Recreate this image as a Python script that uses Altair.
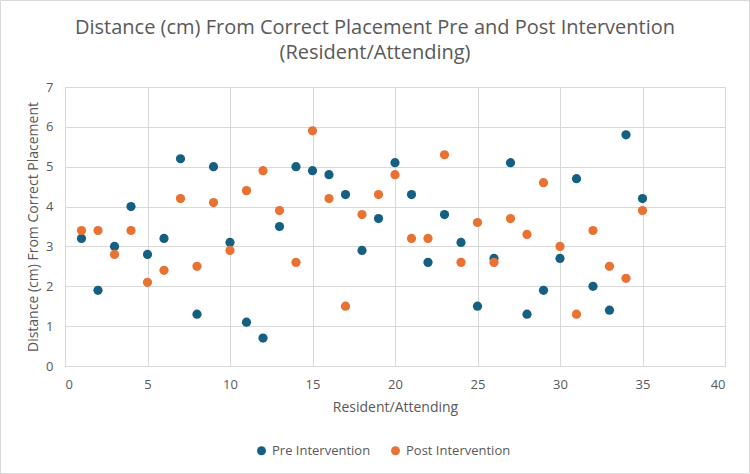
import altair as alt
import pandas as pd

resident = list(range(1, 36))
pre = [3.2, 1.9, 3.0, 4.0, 2.8, 3.2, 5.2, 1.3, 5.0, 3.1, 1.1, 0.7, 3.5, 5.0, 4.9,
       4.8, 4.3, 2.9, 3.7, 5.1, 4.3, 2.6, 3.8, 3.1, 1.5, 2.7, 5.1, 1.3, 1.9, 2.7,
       4.7, 2.0, 1.4, 5.8, 4.2]
post = [3.4, 3.4, 2.8, 3.4, 2.1, 2.4, 4.2, 2.5, 4.1, 2.9, 4.4, 4.9, 3.9, 2.6, 5.9,
        4.2, 1.5, 3.8, 4.3, 4.8, 3.2, 3.2, 5.3, 2.6, 3.6, 2.6, 3.7, 3.3, 4.6, 3.0,
        1.3, 3.4, 2.5, 2.2, 3.9]
series = ["Pre Intervention", "Post Intervention"]
colors = ["#156082", "#E97132"]
title_lines = ["Distance (cm) From Correct Placement Pre and Post Intervention",
               "(Resident/Attending)"]

df = pd.DataFrame(
    [{"x": r, "y": v, "s": series[0]} for r, v in zip(resident, pre)]
    + [{"x": r, "y": v, "s": series[1]} for r, v in zip(resident, post)]
)

FONT = "Open Sans"
GRAY = "#595959"
W, H = 660, 279
PAD = {"left": 65, "top": 87, "right": 25, "bottom": 108}

points = alt.Chart(df).mark_circle(size=85, opacity=1).encode(
    x=alt.X("x:Q", scale=alt.Scale(domain=[0, 40], nice=False),
            axis=alt.Axis(title="Resident/Attending", values=list(range(0, 41, 5)),
                          labelPadding=12, titlePadding=9)),
    y=alt.Y("y:Q", scale=alt.Scale(domain=[0, 7], nice=False),
            axis=alt.Axis(title="Distance (cm) From Correct Placement",
                          values=list(range(0, 8)), labelPadding=12, titlePadding=5)),
    color=alt.Color("s:N", scale=alt.Scale(domain=series, range=colors),
                    legend=alt.Legend(title=None, orient="none", direction="horizontal",
                                      legendX=190, legendY=357, symbolSize=80,
                                      columnPadding=18, labelFontSize=13,
                                      labelColor=GRAY, labelFont=FONT,
                                      symbolType="circle", labelOffset=4)),
)

border = alt.Chart(pd.DataFrame({"a": [0]})).mark_rect(
    fill=None, stroke="#D9D9D9", strokeWidth=1, clip=False
).encode(
    x=alt.value(-PAD["left"] + 0.5), x2=alt.value(W + PAD["right"] - 0.5),
    y=alt.value(-PAD["top"] + 0.5), y2=alt.value(H + PAD["bottom"] - 0.5),
)

title = alt.Chart(pd.DataFrame({"t": ["\n".join(title_lines)]})).mark_text(
    font=FONT, fontSize=20, color=GRAY, align="center", baseline="alphabetic",
    lineBreak="\n", lineHeight=25, clip=False,
).encode(
    text="t:N", x=alt.value(375 - PAD["left"]), y=alt.value(34 - PAD["top"]),
)

chart = alt.layer(border, points, title).properties(
    width=W,
    height=H,
    autosize=alt.AutoSizeParams(type="none"),
    padding=PAD,
).configure_view(stroke="#D9D9D9").configure_axis(
    grid=True, gridColor="#D9D9D9", domain=True, domainColor="#D9D9D9",
    ticks=False, labelFont=FONT, labelFontSize=13, labelColor=GRAY,
    titleFont=FONT, titleFontSize=14, titleColor=GRAY, titleFontWeight="normal",
)

chart.save("out.html", embed_options={"renderer": "svg", "actions": False})
